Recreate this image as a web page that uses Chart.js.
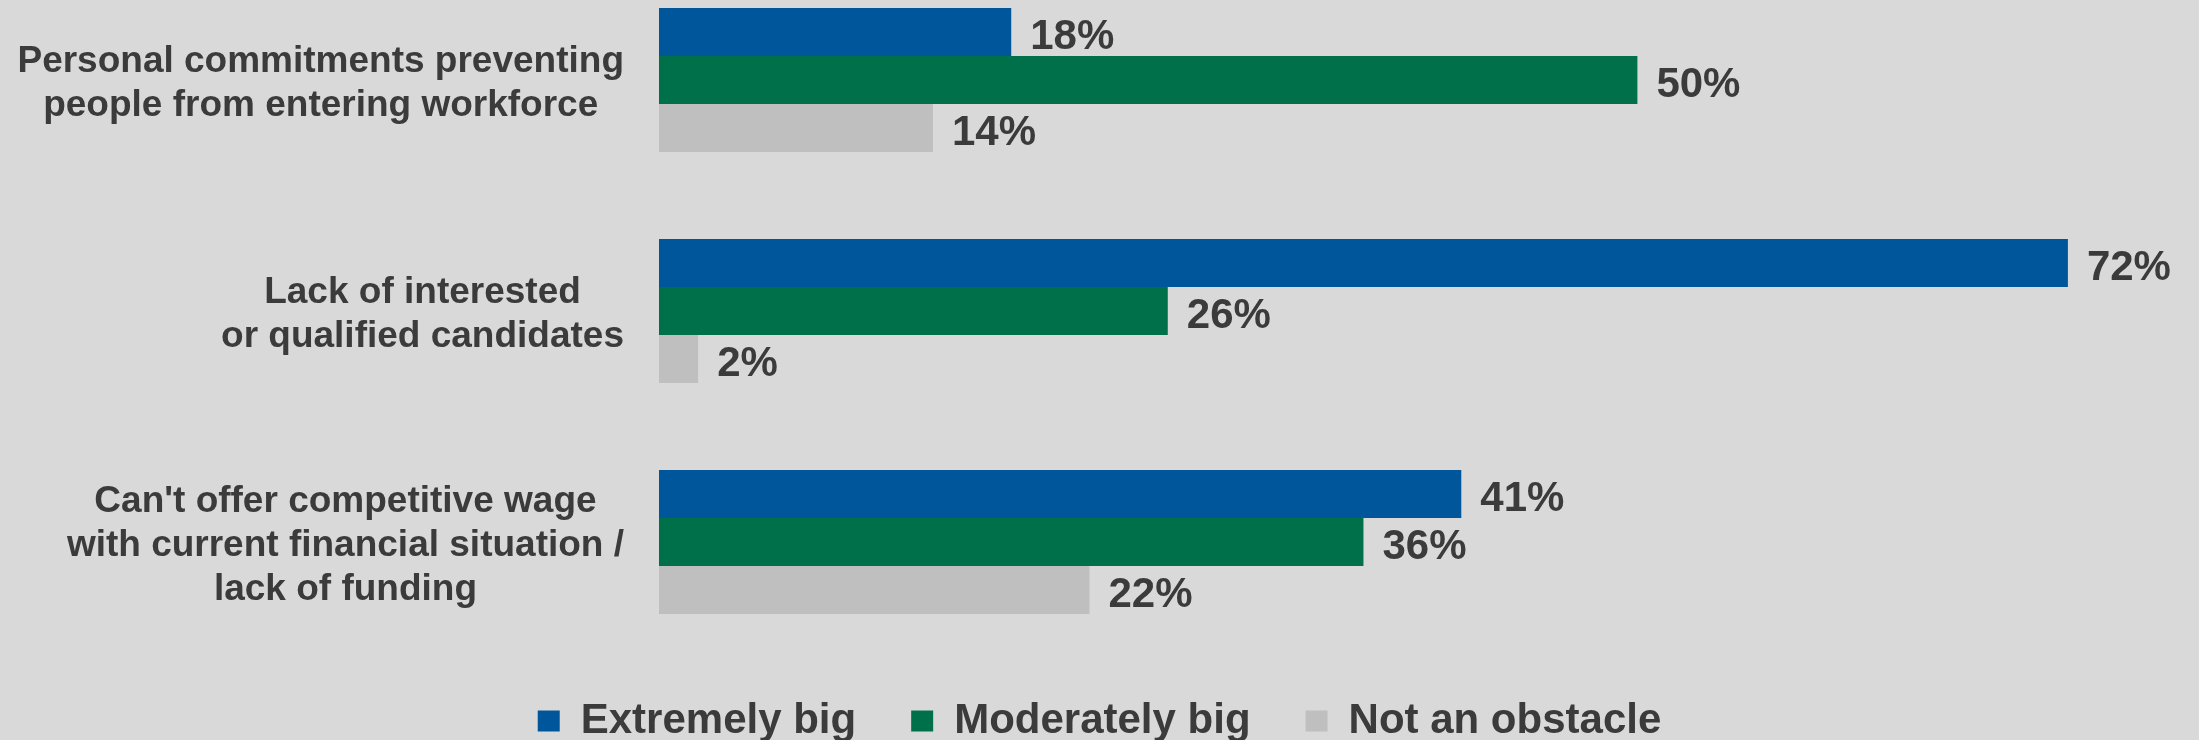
<!DOCTYPE html>
<html>
<head>
<meta charset="utf-8">
<script src="https://cdn.jsdelivr.net/npm/chart.js@4.4.1/dist/chart.umd.min.js"></script>
<style>
    html, body { margin: 0; padding: 0; background: #d9d9d9; }
    canvas { display: block; }
</style>
</head>
<body>
<canvas id="obstacleChart" width="2199" height="740"></canvas>
<script>
// values
const categories = [
    ['Personal commitments preventing', 'people from entering workforce'],
    ['Lack of interested', 'or qualified candidates'],
    ["Can't offer competitive wage", 'with current financial situation /', 'lack of funding']
];
const seriesNames = ['Extremely big', 'Moderately big', 'Not an obstacle'];
const extremelyBig = [18, 72, 41];
const moderatelyBig = [50, 26, 36];
const notAnObstacle = [14, 2, 22];

const colors = ['#00569a', '#00704a', '#bfbfbf'];
const textColor = '#3b3b3b';
const fontFamily = 'Arial, "Liberation Sans", sans-serif';

Chart.defaults.font.family = fontFamily;

// category labels: each block centred on itself, block pushed against the bars
const categoryLabels = {
    id: 'categoryLabels',
    afterDraw(chart) {
        const ctx = chart.ctx;
        const yScale = chart.scales.y;
        const right = chart.chartArea.left - 35;
        const lineHeight = 44;
        ctx.save();
        ctx.font = 'bold 37px ' + fontFamily;
        ctx.fillStyle = textColor;
        ctx.textAlign = 'center';
        ctx.textBaseline = 'middle';
        categories.forEach((lines, i) => {
            const y = yScale.getPixelForTick(i) + 4;
            const maxW = Math.max(...lines.map(l => ctx.measureText(l).width));
            const cx = right - maxW / 2;
            const startY = y - (lines.length - 1) * lineHeight / 2;
            lines.forEach((line, j) => {
                ctx.fillText(line, cx, startY + j * lineHeight);
            });
        });
        ctx.restore();
    }
};

// percentage labels at the end of every bar
const valueLabels = {
    id: 'valueLabels',
    afterDatasetsDraw(chart) {
        const ctx = chart.ctx;
        ctx.save();
        ctx.font = 'bold 42px ' + fontFamily;
        ctx.fillStyle = textColor;
        ctx.textAlign = 'left';
        ctx.textBaseline = 'middle';
        chart.data.datasets.forEach((ds, di) => {
            chart.getDatasetMeta(di).data.forEach((bar, i) => {
                ctx.fillText(ds.data[i] + '%', bar.x + 19, bar.y + 5);
            });
        });
        ctx.restore();
    }
};

new Chart(document.getElementById('obstacleChart'), {
    type: 'bar',
    data: {
        labels: categories,
        datasets: [
            { label: seriesNames[0], data: extremelyBig, backgroundColor: colors[0] },
            { label: seriesNames[1], data: moderatelyBig, backgroundColor: colors[1] },
            { label: seriesNames[2], data: notAnObstacle, backgroundColor: colors[2] }
        ]
    },
    options: {
        indexAxis: 'y',
        responsive: false,
        animation: false,
        layout: { padding: { top: 80 } },
        datasets: {
            bar: {
                borderWidth: 0,
                barPercentage: 1,
                categoryPercentage: 0.623,
                clip: false
            }
        },
        scales: {
            x: {
                min: 0,
                max: 78.7,
                grid: { display: false },
                border: { display: false },
                ticks: { display: false },
                afterFit: s => { s.height = 103; }
            },
            y: {
                offset: false,
                grid: { display: false },
                border: { display: false },
                ticks: { display: false },
                afterFit: s => { s.width = 659; }
            }
        },
        plugins: {
            legend: {
                position: 'bottom',
                maxHeight: 95,
                labels: {
                    color: textColor,
                    boxWidth: 22,
                    boxHeight: 21,
                    padding: 55,
                    font: { size: 42, weight: 'bold' }
                }
            },
            tooltip: { enabled: false }
        }
    },
    plugins: [categoryLabels, valueLabels]
});
</script>
</body>
</html>
